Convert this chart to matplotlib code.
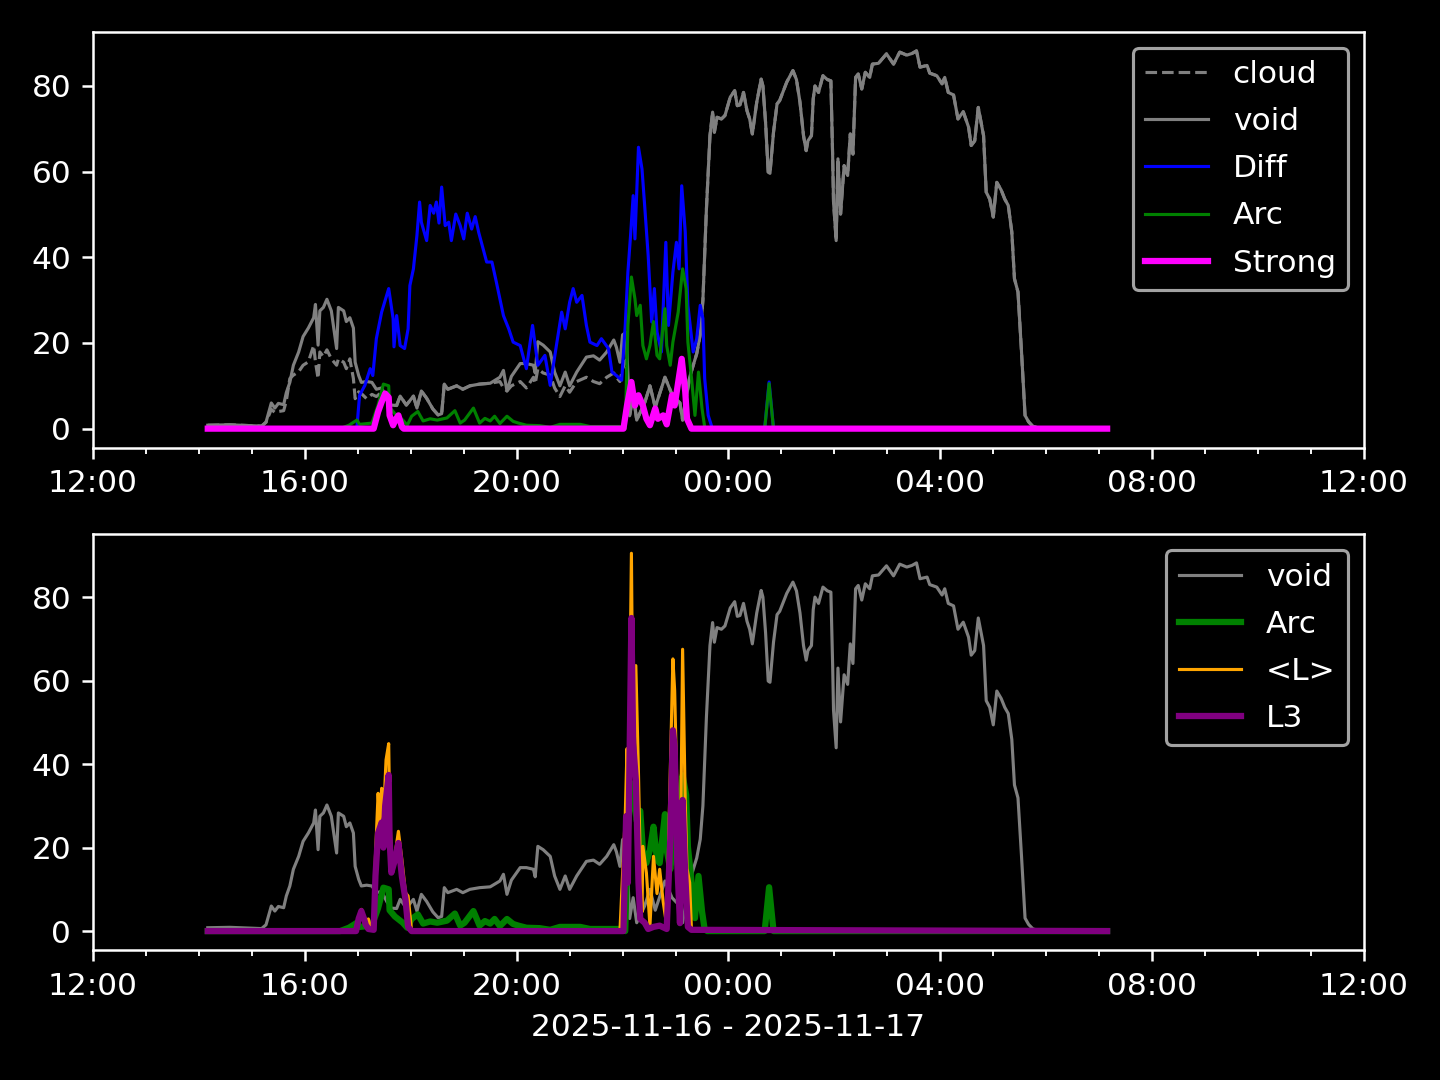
import matplotlib
matplotlib.use('Agg')
import matplotlib.pyplot as plt
import matplotlib.dates as mdates
import pandas as pd

# ---------------- data ----------------
t_vc = ["14:10", "14:35", "15:11", "15:16", "15:22", "15:26", "15:30", "15:36", "15:39", "15:43",
        "15:47", "15:53", "15:58", "16:04", "16:10", "16:12", "16:15", "16:17", "16:21", "16:25",
        "16:30", "16:36", "16:38", "16:44", "16:47", "16:51", "16:55", "16:57", "17:01", "17:04",
        "17:10", "17:16", "17:21", "17:27", "17:33", "17:38", "17:44", "17:48", "17:55", "18:03",
        "18:07", "18:12", "18:18", "18:25", "18:31", "18:35", "18:38", "18:42", "18:52", "18:59",
        "19:07", "19:18", "19:30", "19:41", "19:45", "19:49", "19:54", "20:04", "20:11", "20:19",
        "20:21", "20:24", "20:30", "20:38", "20:43", "20:49", "20:55", "21:00", "21:08", "21:19",
        "21:27", "21:34", "21:42", "21:50", "21:53", "21:57", "22:00", "22:04", "22:08", "22:12",
        "22:16", "22:25", "22:31", "22:37", "22:48", "22:56", "23:05", "23:08", "23:16", "23:24",
        "23:28", "23:31", "23:35", "23:39", "23:42", "23:44", "23:47", "23:52", "23:56", "00:02",
        "00:07", "00:10", "00:13", "00:17", "00:21", "00:24", "00:27", "00:32", "00:37", "00:39",
        "00:42", "00:45", "00:47", "00:51", "00:55", "00:58", "01:06", "01:13", "01:17", "01:21",
        "01:25", "01:28", "01:30", "01:34", "01:36", "01:38", "01:42", "01:47", "01:52", "01:56",
        "01:58", "01:59", "02:02", "02:04", "02:07", "02:11", "02:15", "02:18", "02:21", "02:24",
        "02:27", "02:31", "02:35", "02:40", "02:43", "02:50", "02:59", "03:07", "03:14", "03:22",
        "03:28", "03:33", "03:37", "03:45", "03:48", "03:56", "04:02", "04:05", "04:09", "04:15",
        "04:20", "04:26", "04:32", "04:35", "04:39", "04:43", "04:49", "04:52", "04:56", "05:00",
        "05:04", "05:09", "05:13", "05:17", "05:21", "05:24", "05:28", "05:32", "05:36", "05:40",
        "05:45", "05:53", "07:09"]

void = [0.8, 0.9, 0.6, 1.5, 6.0, 4.8, 5.9, 5.6, 8.4, 10.8,
        14.8, 17.9, 21.5, 23.5, 25.9, 29.0, 19.5, 27.5, 28.3, 30.2,
        27.5, 18.7, 28.3, 27.5, 25.0, 25.9, 23.5, 15.5, 12.4, 10.8,
        11.0, 10.8, 9.2, 9.5, 7.0, 5.5, 5.4, 7.6, 5.5, 7.6,
        4.8, 8.8, 7.1, 4.6, 3.2, 3.5, 10.4, 9.2, 10.0, 9.2,
        10.0, 10.4, 10.6, 12.0, 13.6, 8.8, 12.2, 15.2, 15.2, 14.8,
        13.0, 20.3, 19.5, 17.9, 13.2, 10.0, 13.2, 10.0, 13.2, 16.7,
        17.0, 16.0, 17.9, 20.7, 19.0, 15.5, 21.9, 22.5, 3.0, 8.0,
        2.0, 6.0, 10.0, 5.0, 12.0, 8.0, 6.0, 2.0, 12.0, 17.5,
        22.0, 30.0, 51.3, 68.4, 73.9, 69.2, 72.7, 72.3, 73.1, 77.4,
        78.9, 75.4, 75.6, 78.5, 74.2, 72.3, 68.8, 76.2, 81.6, 80.0,
        71.5, 59.9, 59.6, 69.2, 75.8, 76.6, 80.9, 83.6, 81.5, 76.2,
        68.4, 64.9, 67.2, 68.4, 77.0, 80.0, 78.5, 82.4, 81.5, 81.2,
        63.7, 52.9, 43.9, 63.0, 50.1, 61.4, 59.1, 68.8, 64.1, 82.0,
        82.8, 79.3, 83.2, 82.0, 85.1, 85.3, 87.5, 85.1, 87.9, 87.2,
        87.6, 88.2, 84.4, 84.8, 83.0, 82.4, 80.5, 82.0, 78.5, 77.9,
        72.3, 74.0, 70.4, 66.1, 67.2, 75.0, 68.4, 55.2, 53.6, 49.4,
        57.5, 55.7, 53.6, 52.1, 45.9, 35.0, 31.9, 17.9, 3.1, 1.6,
        0.5, 0.1, 0.0]

cloud = [0.8, 0.9, 0.6, 1.5, 4.5, 3.8, 4.0, 4.2, 6.5, 11.7,
         12.5, 13.3, 14.8, 15.6, 19.4, 15.6, 11.7, 17.9, 16.8, 18.4,
         16.3, 14.8, 16.3, 15.5, 14.0, 16.3, 11.7, 7.0, 8.6, 8.2,
         7.0, 8.0, 7.5, 8.5, 7.0, 5.5, 5.4, 7.6, 5.5, 7.6,
         4.8, 8.8, 7.1, 4.6, 3.2, 3.5, 10.4, 9.2, 10.0, 9.2,
         10.0, 10.4, 10.6, 11.0, 9.5, 8.8, 10.0, 11.0, 9.5, 12.0,
         10.5, 14.0, 13.0, 12.5, 9.5, 7.5, 10.0, 8.5, 11.0, 12.0,
         11.0, 10.5, 12.0, 13.0, 12.0, 11.0, 14.0, 16.0, 3.0, 8.0,
         2.0, 6.0, 10.0, 5.0, 12.0, 8.0, 6.0, 2.0, 12.0, 17.5,
         22.0, 30.0, 51.3, 68.4, 73.9, 69.2, 72.7, 72.3, 73.1, 77.4,
         78.9, 75.4, 75.6, 78.5, 74.2, 72.3, 68.8, 76.2, 81.6, 80.0,
         71.5, 59.9, 59.6, 69.2, 75.8, 76.6, 80.9, 83.6, 81.5, 76.2,
         68.4, 64.9, 67.2, 68.4, 77.0, 80.0, 78.5, 82.4, 81.5, 81.2,
         63.7, 52.9, 43.9, 63.0, 50.1, 61.4, 59.1, 68.8, 64.1, 82.0,
         82.8, 79.3, 83.2, 82.0, 85.1, 85.3, 87.5, 85.1, 87.9, 87.2,
         87.6, 88.2, 84.4, 84.8, 83.0, 82.4, 80.5, 82.0, 78.5, 77.9,
         72.3, 74.0, 70.4, 66.1, 67.2, 75.0, 68.4, 55.2, 53.6, 49.4,
         57.5, 55.7, 53.6, 52.1, 45.9, 35.0, 31.9, 17.9, 3.1, 1.6,
         0.5, 0.1, 0.0]

t_diff = ["14:10", "16:55", "16:59", "17:02", "17:08", "17:14", "17:17", "17:21", "17:27", "17:35",
          "17:40", "17:41", "17:44", "17:48", "17:53", "17:57", "17:59", "18:03", "18:07", "18:10",
          "18:12", "18:18", "18:22", "18:26", "18:29", "18:32", "18:35", "18:39", "18:43", "18:46",
          "18:51", "18:56", "19:00", "19:04", "19:09", "19:13", "19:17", "19:20", "19:26", "19:32",
          "19:37", "19:41", "19:45", "19:51", "19:56", "20:04", "20:11", "20:18", "20:24", "20:32",
          "20:38", "20:45", "20:51", "20:55", "21:00", "21:04", "21:08", "21:14", "21:19", "21:23",
          "21:31", "21:36", "21:44", "21:48", "21:53", "21:59", "22:03", "22:06", "22:09", "22:12",
          "22:14", "22:18", "22:22", "22:25", "22:29", "22:33", "22:36", "22:39", "22:44", "22:49",
          "22:52", "22:57", "23:01", "23:04", "23:07", "23:11", "23:14", "23:20", "23:24", "23:28",
          "23:31", "23:33", "23:37", "23:41", "23:43", "00:41", "00:46", "00:51", "07:09"]
diff = [0.0, 0.0, 0.3, 7.8, 10.1, 14.0, 12.4, 21.0, 27.2, 32.7,
        25.7, 19.1, 26.4, 19.4, 18.7, 23.3, 33.4, 37.3, 45.1, 52.9,
        48.2, 43.9, 52.1, 50.3, 52.9, 48.0, 56.4, 47.4, 48.2, 43.9,
        50.1, 47.4, 44.3, 50.3, 46.6, 49.5, 45.8, 43.5, 38.9, 38.9,
        34.2, 30.3, 26.4, 23.3, 20.2, 19.4, 14.0, 24.1, 14.8, 17.1,
        10.1, 19.4, 27.2, 23.3, 29.5, 32.7, 29.5, 31.1, 24.1, 20.2,
        19.4, 21.0, 18.7, 13.2, 12.4, 11.3, 24.1, 36.5, 45.0, 54.4,
        44.3, 65.7, 60.6, 52.1, 40.4, 24.9, 32.7, 22.6, 17.9, 43.5,
        24.1, 36.5, 43.5, 37.3, 56.7, 45.9, 28.8, 17.9, 21.0, 28.8,
        25.7, 11.7, 3.1, 0.5, 0.0, 0.0, 10.9, 0.0, 0.0]

t_arc = ["14:10", "16:40", "16:50", "16:59", "17:02", "17:16", "17:23", "17:29", "17:35", "17:36",
         "17:42", "17:51", "17:56", "18:01", "18:08", "18:14", "18:22", "18:30", "18:41", "18:50",
         "18:56", "19:01", "19:11", "19:18", "19:24", "19:30", "19:35", "19:41", "19:49", "19:56",
         "20:02", "20:11", "20:26", "20:38", "20:49", "21:12", "21:23", "21:57", "22:03", "22:06",
         "22:10", "22:14", "22:16", "22:20", "22:23", "22:27", "22:31", "22:35", "22:39", "22:42",
         "22:48", "22:50", "22:54", "22:57", "23:03", "23:08", "23:12", "23:14", "23:18", "23:22",
         "23:26", "23:30", "23:33", "23:36", "00:41", "00:46", "00:51", "07:09"]
arc = [0.0, 0.0, 0.8, 2.0, 1.0, 1.3, 5.5, 10.4, 10.0, 5.0,
       3.5, 2.0, 0.8, 2.9, 4.0, 1.8, 2.3, 2.0, 2.5, 4.2,
       1.3, 2.0, 4.8, 1.3, 2.4, 1.8, 2.9, 1.2, 2.9, 1.7,
       1.3, 0.8, 0.7, 0.3, 1.0, 1.0, 0.5, 0.5, 0.0, 24.1,
       35.4, 30.3, 26.4, 28.8, 19.4, 16.3, 19.4, 25.0, 17.1, 16.3,
       28.0, 19.4, 14.8, 20.2, 27.2, 37.3, 32.7, 20.2, 12.0, 3.1,
       13.2, 4.7, 0.4, 0.0, 0.0, 10.5, 0.0, 0.0]

t_strong = ["14:10", "17:18", "17:23", "17:27", "17:31", "17:35", "17:36", "17:40", "17:43", "17:46",
            "17:50", "17:52", "22:01", "22:05", "22:10", "22:14", "22:18", "22:23", "22:27", "22:31",
            "22:37", "22:40", "22:46", "22:50", "22:56", "22:59", "23:07", "23:11", "23:13", "23:18",
            "07:09"]
strong = [0.0, 0.0, 3.9, 6.2, 8.2, 7.3, 3.1, 0.8, 2.2, 3.1,
          0.4, 0.0, 0.0, 5.4, 10.9, 5.4, 7.8, 5.4, 2.3, 0.8,
          4.7, 2.3, 3.1, 1.0, 7.8, 5.4, 16.3, 8.6, 2.3, 0.0,
          0.0]

t_lmean = ["14:10", "16:58", "17:01", "17:04", "17:07", "17:09", "17:12", "17:15", "17:18", "17:20",
           "17:23", "17:25", "17:27", "17:29", "17:32", "17:35", "17:36", "17:38", "17:42", "17:46",
           "17:50", "17:54", "17:57", "18:01", "21:57", "22:03", "22:05", "22:06", "22:10", "22:12",
           "22:15", "22:18", "22:20", "22:22", "22:23", "22:27", "22:31", "22:35", "22:39", "22:42",
           "22:46", "22:50", "22:54", "22:57", "22:59", "23:02", "23:05", "23:08", "23:11", "23:13",
           "23:16", "23:18", "07:09"]
lmean = [0.0, 0.0, 3.5, 5.2, 3.5, 2.5, 2.9, 0.5, 0.5, 17.9,
         33.0, 26.0, 34.2, 27.0, 41.0, 44.9, 30.0, 17.9, 18.0, 23.9,
         17.0, 9.2, 8.4, 0.0, 0.0, 27.5, 43.7, 15.0, 90.5, 40.0,
         63.6, 37.8, 16.8, 4.6, 20.3, 13.9, 1.3, 17.9, 9.0, 14.8,
         7.0, 1.3, 37.8, 65.2, 57.6, 30.0, 6.3, 67.5, 30.7, 15.0,
         11.6, 0.5, 0.0]

t_l3 = ["14:10", "16:58", "17:01", "17:04", "17:07", "17:09", "17:12", "17:18", "17:20", "17:23",
        "17:27", "17:29", "17:31", "17:35", "17:36", "17:38", "17:42", "17:46", "17:50", "17:54",
        "17:57", "18:01", "22:01", "22:04", "22:06", "22:10", "22:12", "22:15", "22:18", "22:20",
        "22:25", "22:29", "22:35", "22:42", "22:50", "22:54", "22:57", "22:59", "23:02", "23:05",
        "23:08", "23:11", "23:14", "23:18", "07:09"]
l3 = [0.0, 0.0, 3.0, 4.8, 3.0, 1.5, 0.5, 0.3, 13.2, 23.5,
      26.0, 20.0, 30.0, 37.4, 22.0, 14.0, 17.0, 21.1, 13.0, 7.6,
      1.0, 0.0, 0.0, 27.5, 11.6, 75.0, 45.0, 36.2, 11.6, 2.9,
      2.0, 0.5, 1.0, 1.3, 0.5, 21.9, 48.1, 44.1, 16.0, 1.9,
      31.4, 13.3, 1.0, 0.3, 0.0]

x_start = "2025-11-16 12:00"
x_end = "2025-11-17 12:00"
xlabel = "2025-11-16 - 2025-11-17"


def to_dt(times):
    out = []
    for s in times:
        h = int(s[:2])
        day = "2025-11-16" if h >= 12 else "2025-11-17"
        out.append(pd.Timestamp(f"{day} {s}"))
    return out


plt.style.use('dark_background')
fig, (ax1, ax2) = plt.subplots(2, 1, figsize=(6.4, 4.8), dpi=225)
fig.subplots_adjust(left=0.0646, right=0.9472, top=0.9704, bottom=0.1204, hspace=0.209)

tv = to_dt(t_vc)
ax1.plot(tv, cloud, color='gray', ls='--', lw=1, label='cloud')
ax1.plot(tv, void, color='gray', lw=1, label='void')
ax1.plot(to_dt(t_diff), diff, color='blue', lw=1, label='Diff')
ax1.plot(to_dt(t_arc), arc, color='green', lw=1, label='Arc')
ax1.plot(to_dt(t_strong), strong, color='magenta', lw=2, label='Strong')
ax1.legend(loc='upper right', labelspacing=0.58)

ax2.plot(tv, void, color='gray', lw=1, label='void')
ax2.plot(to_dt(t_arc), arc, color='green', lw=2, label='Arc')
ax2.plot(to_dt(t_lmean), lmean, color='orange', lw=1, label='<L>')
ax2.plot(to_dt(t_l3), l3, color='purple', lw=2, label='L3')
ax2.legend(loc='upper right', labelspacing=0.58)
ax2.set_xlabel(xlabel)

for ax in (ax1, ax2):
    ax.set_xlim(pd.Timestamp(x_start), pd.Timestamp(x_end))
    ax.xaxis.set_major_locator(mdates.HourLocator(byhour=[0, 4, 8, 12, 16, 20]))
    ax.xaxis.set_minor_locator(mdates.HourLocator())
    ax.xaxis.set_major_formatter(mdates.DateFormatter('%H:%M'))

fig.savefig('out.png', dpi=225)
